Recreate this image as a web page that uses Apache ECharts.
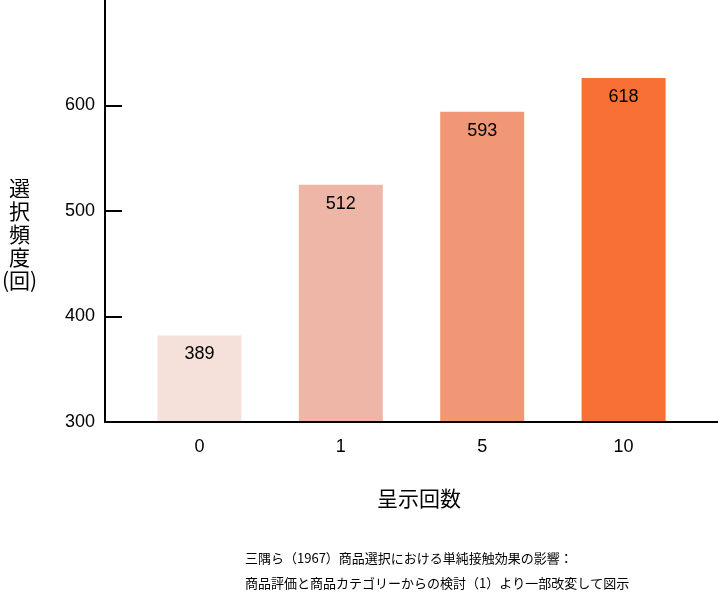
<!DOCTYPE html>
<html>
<head>
<meta charset="utf-8">
<script src="https://cdn.jsdelivr.net/npm/echarts@6/dist/echarts.min.js"></script>
<style>
html,body{margin:0;padding:0;background:#fff;}
#main{width:718px;height:593px;}
</style>
</head>
<body>
<div id="main"></div>
<script>
// Data
var categories = ['0', '1', '5', '10'];
var barHeights = [382, 525, 594, 626];      // bar heights as drawn
var barLabels = ['389', '512', '593', '618']; // printed values
var barColors = ['#F6E0DA', '#EEB6A6', '#F29775', '#F87035'];
var yTicks = [300, 400, 500, 600];

var numFont = "'Liberation Sans', sans-serif";
var jpFont = "'Noto Sans CJK JP', sans-serif";

var chart = echarts.init(document.getElementById('main'), null, {renderer: 'canvas'});
var option = {
  animation: false,
  backgroundColor: '#ffffff',
  grid: [
    {left: 105, right: 0, top: -4, bottom: 171},
    {left: 128.7, width: 565.6, top: -4, bottom: 171}
  ],
  xAxis: [
    {gridIndex: 0, type: 'value', min: 0, max: 1, z: 5,
     axisLine: {show: true, lineStyle: {color: '#000', width: 2}},
     axisTick: {show: false}, axisLabel: {show: false}, splitLine: {show: false}},
    {gridIndex: 1, type: 'category', data: categories,
     axisLine: {show: false}, axisTick: {show: false}, splitLine: {show: false},
     axisLabel: {color: '#000', fontSize: 18, fontFamily: numFont, margin: 16}}
  ],
  yAxis: [
    {gridIndex: 0, type: 'value', min: 300, max: 700, interval: 100, z: 5,
     axisLine: {show: true, lineStyle: {color: '#000', width: 2}},
     axisTick: {show: true, inside: true, length: 17, lineStyle: {color: '#000', width: 2}},
     splitLine: {show: false},
     axisLabel: {color: '#000', fontSize: 18, fontFamily: numFont, margin: 10,
       showMaxLabel: false,
       formatter: function (v) { return yTicks.indexOf(v) >= 0 ? String(v) : ''; }}},
    {gridIndex: 1, type: 'value', min: 300, max: 700, show: false}
  ],
  series: [{
    type: 'bar',
    xAxisIndex: 1, yAxisIndex: 1,
    barWidth: 84,
    data: barHeights.map(function (v, i) {
      return {value: v, itemStyle: {color: barColors[i]}};
    }),
    label: {
      show: true, position: 'insideTop', distance: 10,
      color: '#000', fontSize: 18, fontFamily: numFont,
      formatter: function (p) { return barLabels[p.dataIndex]; }
    }
  }],
  graphic: [
    {type: 'text', left: 2, top: 177,
     style: {text: '選\n択\n頻\n度\n(回)', font: '21px ' + jpFont, fill: '#000',
             textAlign: 'center', lineHeight: 23, x: 20}},
    {type: 'text', left: 377, top: 488,
     style: {text: '呈示回数', font: '21px ' + jpFont, fill: '#000'}},
    {type: 'text', left: 245, top: 552,
     style: {text: '三隅ら（1967）商品選択における単純接触効果の影響：', font: '13px ' + jpFont, fill: '#000'}},
    {type: 'text', left: 245, top: 577,
     style: {text: '商品評価と商品カテゴリーからの検討（1）より一部改変して図示', font: '13px ' + jpFont, fill: '#000'}}
  ]
};
chart.setOption(option);
</script>
</body>
</html>
